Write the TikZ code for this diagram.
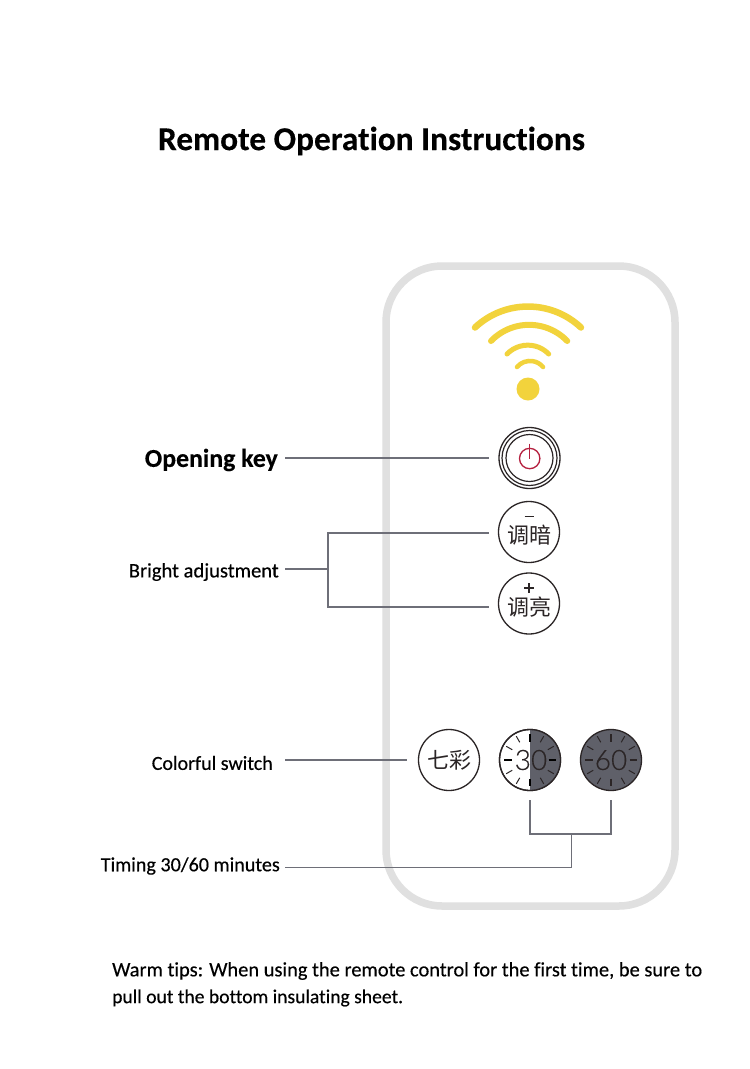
\documentclass[tikz,border=0pt]{standalone}
\usepackage{fontspec}
\setmainfont{Carlito}[Ligatures=NoCommon]
\newfontfamily\hand{Carlito}[Ligatures=NoCommon,FakeBold=0.35]
\newfontfamily\handbold{Carlito Bold}[Ligatures=NoCommon,FakeBold=0.25]
\newfontfamily\cjk{Noto Sans CJK SC}
\newfontfamily\numfont{Lato Light}[FakeBold=0.4]
\newcommand{\fitw}[2]{\resizebox{#1pt}{!}{#2}}
\definecolor{wifi}{HTML}{F2D33C}
\definecolor{conn}{HTML}{6E6F78}
\definecolor{dial}{HTML}{5F6069}
\definecolor{ink}{HTML}{2B2526}
\definecolor{shell}{HTML}{E0E0E0}
\definecolor{powerred}{HTML}{B5203F}
\tikzset{
  x=1pt,y=-1pt,
  btn/.style={circle,draw=ink,line width=1.3pt,minimum size=61pt,inner sep=0pt},
  connector/.style={draw=conn,line width=1.2pt},
  wave/.style={draw=wifi,line cap=round},
  hair/.style={draw=ink,line width=1pt},
  heavy/.style={draw=black,line width=2pt},
  cjktext/.style={inner sep=0pt,text=ink,font=\cjk\fontsize{22}{22}\selectfont},
  numtext/.style={inner sep=0pt,text=ink,font=\numfont\fontsize{28}{28}\selectfont}
}
\begin{document}
\begin{tikzpicture}
\useasboundingbox (0,0) rectangle (750,1069);
\fill[white] (0,0) rectangle (750,1069);
% shell
\node[draw=shell,line width=7.5pt,rounded corners=56pt,minimum width=289pt,minimum height=640pt,inner sep=0pt] (shell) at (530.5,586) {};
% wifi
\draw[wave,line width=6.5pt] (475,327.5) arc (226.8:313.2:77.4);
\draw[wave,line width=6pt] (491,341) arc (224:316:53);
\draw[wave,line width=5pt] (507,354) arc (224:316:29);
\draw[wave,line width=4.5pt] (517,367) arc (220:320:17);
\fill[wifi] (528,389) circle (11.5);
% title
\node[inner sep=0pt] (title) at (371.5,141) {\fitw{427}{\handbold\fontsize{38}{40}\selectfont Remote Operation Instructions}};
% power
\node[btn] (power) at (529.5,458) {};
\draw[ink,line width=1.2pt] (power) circle (27.5);
\draw[ink,line width=1.2pt] (power) circle (23.5);
\draw[powerred,line width=1.3pt] (529.7,458.5) circle (10.2);
\draw[powerred,line width=1.3pt] (529.7,443.5) -- (529.7,458.5);
% dim / bright
\node[btn] (dim) at (529,532) {};
\node[cjktext] (dimtext) at (529.5,535) {调暗};
\draw[ink,line width=1.2pt] (524.5,516.5) -- (534,516.5);
\node[btn] (bright) at (529,603.5) {};
\node[cjktext] (brighttext) at (529.5,607) {调亮};
\draw[ink,line width=1.2pt] (524,588) -- (534,588) (529,583) -- (529,593);
% colour
\node[btn] (colour) at (449,760) {};
\node[cjktext] (colourtext) at (449,760) {七彩};
% 30
\node[btn] (t30) at (530,760) {};
\fill[dial] (530,729.5) arc (-90:90:30.5) -- cycle;
\draw[ink,line width=1.3pt] (t30) circle (30.5);
\foreach \a in {30,60,120,150,210,240,300,330} {
  \draw[hair] (t30) ++(\a:20.5) -- ++(\a:7);
}
\foreach \a in {0,90,180,270} {
  \draw[heavy] (t30) ++(\a:18.5) -- ++(\a:7.5);
}
\node[numtext] (n30) at (531,760) {30};
% 60
\node[btn,fill=dial] (t60) at (611,760) {};
\foreach \a in {30,60,120,150,210,240,300,330} {
  \draw[hair] (t60) ++(\a:20.5) -- ++(\a:7);
}
\foreach \a in {0,90,180,270} {
  \draw[ink,line width=2pt] (t60) ++(\a:18.5) -- ++(\a:7.5);
}
\node[numtext] (n60) at (611,760) {60};
% labels
\node[inner sep=0pt,anchor=east] (opening) at (278,460) {\fitw{133}{\handbold\fontsize{28}{30}\selectfont Opening key}};
\node[inner sep=0pt,anchor=east] (adjust) at (279,572) {\fitw{150}{\hand\fontsize{22}{24}\selectfont Bright adjustment}};
\node[inner sep=0pt,anchor=east] (colorful) at (273,763) {\fitw{121}{\hand\fontsize{22}{24}\selectfont Colorful switch}};
\node[inner sep=0pt,anchor=east] (timing) at (280,866) {\fitw{179}{\hand\fontsize{22}{24}\selectfont Timing 30/60 minutes}};
\node[inner sep=0pt,anchor=west] (tipsa) at (112,971) {\fitw{590}{\hand\fontsize{22}{24}\selectfont Warm tips: When using the remote control for the first time, be sure to}};
\node[inner sep=0pt,anchor=west] (tipsb) at (112,998) {\fitw{291}{\hand\fontsize{22}{24}\selectfont pull out the bottom insulating sheet.}};
% connectors
\coordinate (brk) at (328,569);
\coordinate (dimline) at (529,533);
\coordinate (brightline) at (529,607);
\coordinate (tbar) at (571.7,834);
\coordinate (tline) at (285,867.2);
\draw[connector,shorten >=9pt] (285,458) -- (power.west);
\draw[connector] (285,569) -- (brk);
\draw[connector] (brk |- dimline) -- (489,533);
\draw[connector] (brk |- brightline) -- (489,607);
\draw[connector,line cap=rect] (brk |- dimline) -- (brk |- brightline);
\draw[connector,shorten >=11pt] (285,760) -- (colour.west);
\draw[connector,shorten <=9pt,shorten >=9pt] (t30.south) -- (t30.south |- tbar) -- (t60.south |- tbar) -- (t60.south);
\draw[connector] (tline) -| (tbar);
\end{tikzpicture}
\end{document}
